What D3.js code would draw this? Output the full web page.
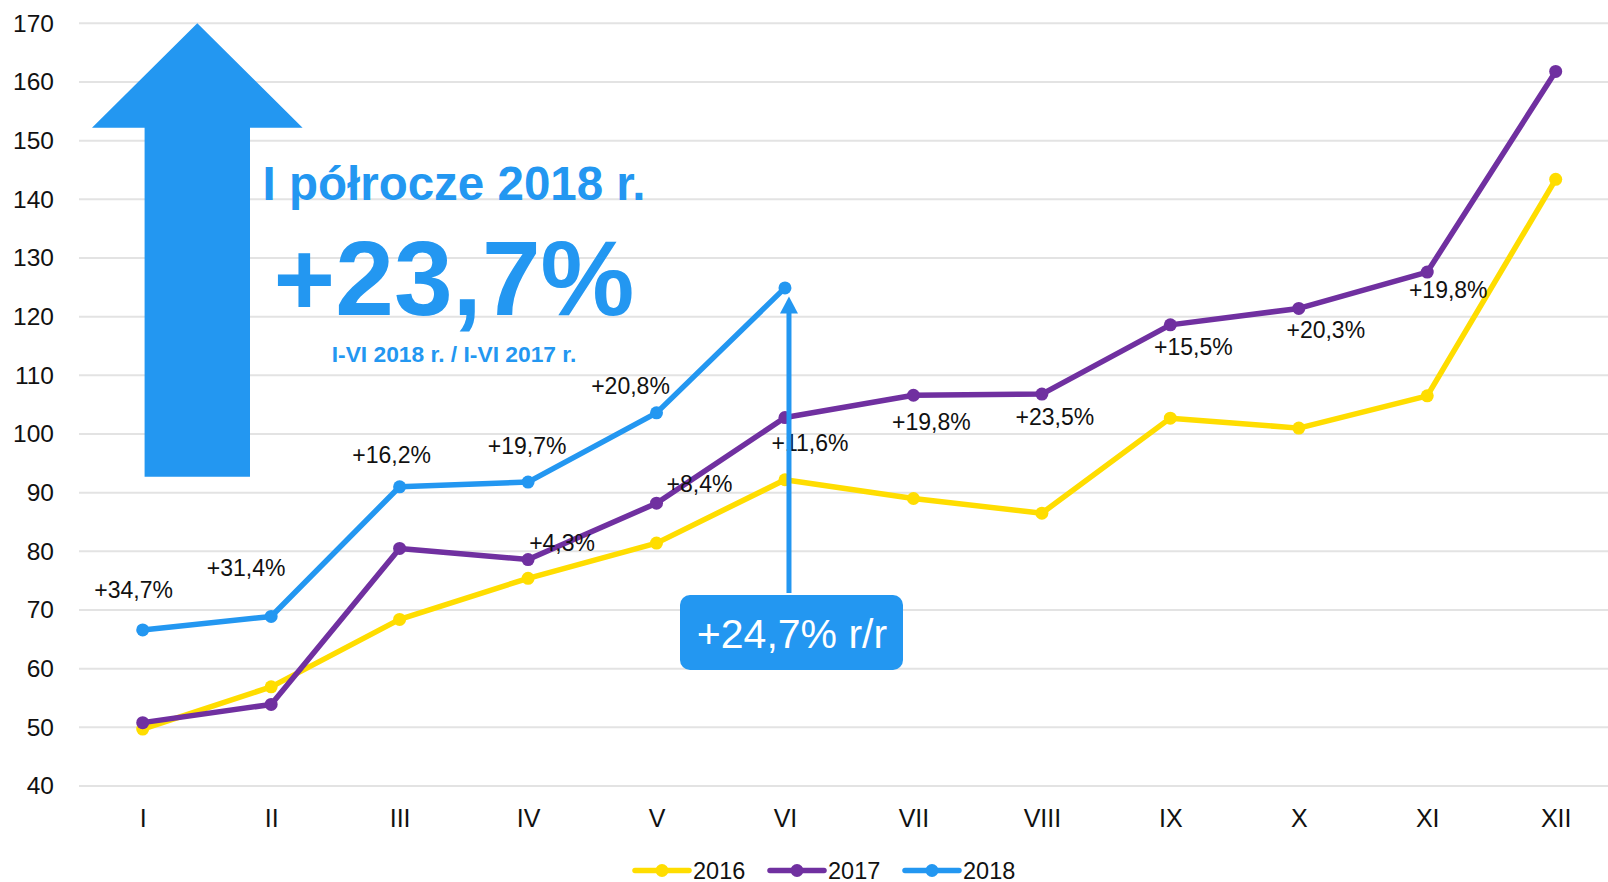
<!DOCTYPE html>
<html>
<head>
<meta charset="utf-8">
<title>Sprzedaż 2016-2018</title>
<style>
  body { margin: 0; background: #fff; }
  svg text { font-family: "Liberation Sans", Arial, sans-serif; }
</style>
<script src="https://d3js.org/d3.v7.min.js"></script>
</head>
<body>
<div id="chart"></div>
<script>
// data
var months = ["I", "II", "III", "IV", "V", "VI", "VII", "VIII", "IX", "X", "XI", "XII"];
var years = ["2016", "2017", "2018"];
var v2016 = [49.7, 56.9, 68.4, 75.4, 81.4, 92.2, 89.0, 86.5, 102.7, 101.0, 106.5, 143.4];
var v2017 = [50.8, 53.9, 80.5, 78.6, 88.2, 102.8, 106.6, 106.8, 118.6, 121.4, 127.6, 161.8];
var v2018 = [66.6, 68.9, 91.0, 91.8, 103.6, 124.9];
var yTicks = [40, 50, 60, 70, 80, 90, 100, 110, 120, 130, 140, 150, 160, 170];

// percent labels: month, series they belong to, text
var pctMonths = ["I", "II", "III", "IV", "V", "IV", "V", "VI", "VII", "VIII", "IX", "X", "XI"];
var pctSeries = ["2018", "2018", "2018", "2018", "2018", "2017", "2017", "2017", "2017", "2017", "2017", "2017", "2017"];
var pctTexts = ["+34,7%", "+31,4%", "+16,2%", "+19,7%", "+20,8%", "+4,3%", "+8,4%", "+11,6%",
                "+19,8%", "+23,5%", "+15,5%", "+20,3%", "+19,8%"];
// label offsets from their point (layout only)
var pctDx = [-9, -25, -8, -1, -26, 34, 43, 25, 18, 13, 23, 27, 21];
var pctDy = [-32, -40, -24, -28, -19, -9, -11, 33, 35, 31, 30, 30, 26];

var W = 1608, H = 882;
var colors = { "2016": "#FFDD00", "2017": "#7030A0", "2018": "#2397F1" };
var series = { "2016": v2016, "2017": v2017, "2018": v2018 };

var svg = d3.select("#chart").append("svg")
  .attr("width", W).attr("height", H);

var x = d3.scalePoint().domain(months).range([142.7, 1555.7]);
var y = d3.scaleLinear().domain([40, 170]).range([786, 23.3]);
var step = x.step();

// grid
svg.append("g").selectAll("line")
  .data(yTicks).enter().append("line")
  .attr("x1", 79).attr("x2", W)
  .attr("y1", function(d) { return y(d); })
  .attr("y2", function(d) { return y(d); })
  .attr("stroke", "#e3e3e3").attr("stroke-width", 2);

// y axis labels
var yAxis = d3.axisLeft(y).tickValues(yTicks).tickSize(0).tickPadding(0);
var gy = svg.append("g").attr("transform", "translate(54,0)").call(yAxis);
gy.select(".domain").remove();
gy.selectAll("text").attr("font-size", 24.5).attr("fill", "#111")
  .style("font-family", "'Liberation Sans', Arial, sans-serif");

// x axis labels
var xAxis = d3.axisBottom(x).tickSize(0).tickPadding(0);
var gx = svg.append("g").attr("transform", "translate(0,808)").call(xAxis);
gx.select(".domain").remove();
gx.selectAll("text").attr("font-size", 25).attr("fill", "#111").attr("dy", "0.74em")
  .style("font-family", "'Liberation Sans', Arial, sans-serif");

// big arrow
var ax = x("I") + step * 0.425;
var bigArrow = [
  [ax, y(170)], [ax + 105.3, y(152.2)], [ax + 52.7, y(152.2)], [ax + 52.7, y(92.7)],
  [ax - 52.7, y(92.7)], [ax - 52.7, y(152.2)], [ax - 105.3, y(152.2)]
];
svg.append("polygon")
  .attr("points", bigArrow.map(function(p) { return p.join(","); }).join(" "))
  .attr("fill", "#2397F1");

// headline texts
var tx = 454;
svg.append("text").attr("x", tx).attr("y", 200).attr("text-anchor", "middle")
  .attr("font-size", 47.5).attr("font-weight", "bold").attr("fill", "#2397F1")
  .text("I półrocze 2018 r.");
svg.append("text").attr("x", tx).attr("y", 315).attr("text-anchor", "middle")
  .attr("font-size", 105.5).attr("font-weight", "bold").attr("fill", "#2397F1")
  .text("+23,7%");
svg.append("text").attr("x", tx).attr("y", 361.5).attr("text-anchor", "middle")
  .attr("font-size", 22.8).attr("font-weight", "bold").attr("fill", "#2397F1")
  .text("I-VI 2018 r. / I-VI 2017 r.");

// lines
var line = d3.line()
  .x(function(d, i) { return x(months[i]); })
  .y(function(d) { return y(d); });

years.forEach(function(yr) {
  var g = svg.append("g");
  g.append("path")
    .datum(series[yr])
    .attr("d", line)
    .attr("fill", "none")
    .attr("stroke", colors[yr])
    .attr("stroke-width", 5.5)
    .attr("stroke-linejoin", "round");
  g.selectAll("circle")
    .data(series[yr]).enter().append("circle")
    .attr("cx", function(d, i) { return x(months[i]); })
    .attr("cy", function(d) { return y(d); })
    .attr("r", 6.5)
    .attr("fill", colors[yr]);
});

// percent labels
svg.append("g").selectAll("text")
  .data(pctTexts).enter().append("text")
  .attr("x", function(d, i) { return x(pctMonths[i]) + pctDx[i]; })
  .attr("y", function(d, i) {
    var v = series[pctSeries[i]][months.indexOf(pctMonths[i])];
    return y(v) + pctDy[i];
  })
  .attr("text-anchor", "middle")
  .attr("font-size", 23)
  .attr("fill", "#111")
  .text(function(d) { return d; });

// small arrow pointing to VI 2018
var sx = x("VI") + 4;
var sTop = y(v2018[5]) + 8.5;
svg.append("line")
  .attr("x1", sx).attr("x2", sx)
  .attr("y1", 593).attr("y2", sTop + 12)
  .attr("stroke", "#2397F1").attr("stroke-width", 5);
svg.append("polygon")
  .attr("points", [[sx, sTop], [sx + 9, sTop + 17], [sx - 9, sTop + 17]].map(function(p) { return p.join(","); }).join(" "))
  .attr("fill", "#2397F1");

// callout box
svg.append("rect")
  .attr("x", 680).attr("y", 595).attr("width", 223).attr("height", 75)
  .attr("rx", 10).attr("fill", "#2397F1");
svg.append("text").attr("x", 792).attr("y", 648).attr("text-anchor", "middle")
  .attr("font-size", 41).attr("fill", "#fff")
  .text("+24,7% r/r");

// legend
var legX = [635, 770, 905];
var legend = svg.append("g");
years.forEach(function(yr, i) {
  var lx = legX[i];
  legend.append("line")
    .attr("x1", lx).attr("x2", lx + 54)
    .attr("y1", 870.5).attr("y2", 870.5)
    .attr("stroke", colors[yr]).attr("stroke-width", 5.5)
    .attr("stroke-linecap", "round");
  legend.append("circle")
    .attr("cx", lx + 27).attr("cy", 870.5).attr("r", 6.5)
    .attr("fill", colors[yr]);
  legend.append("text")
    .attr("x", lx + 58).attr("y", 878.5)
    .attr("font-size", 23.5).attr("fill", "#111")
    .text(yr);
});
</script>
</body>
</html>
